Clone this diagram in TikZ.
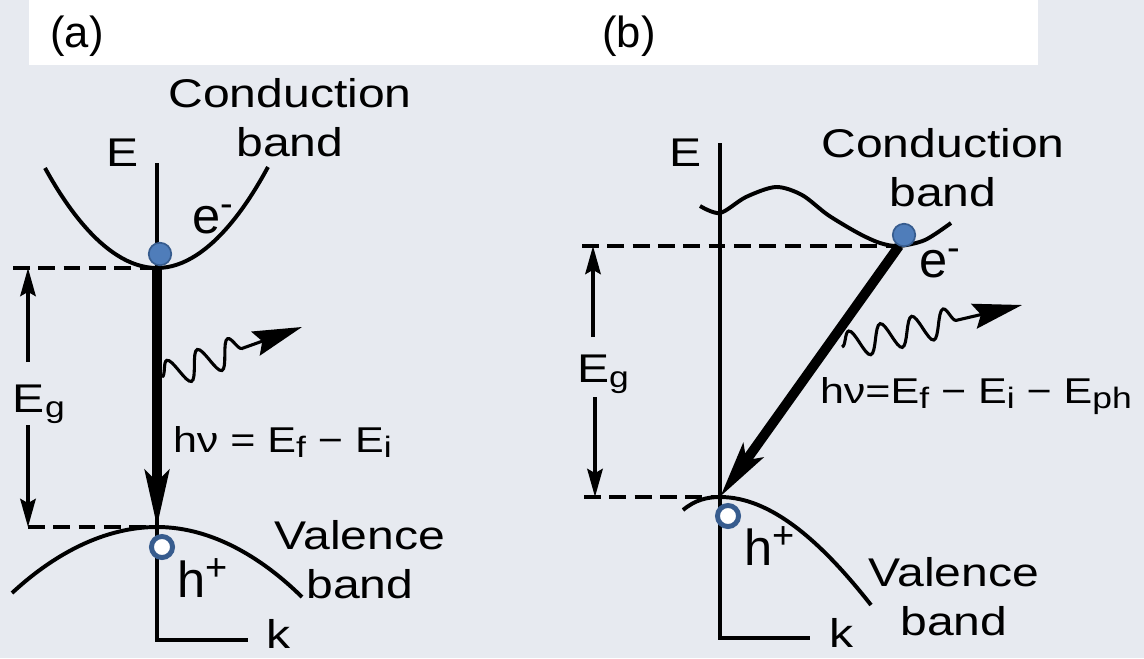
\documentclass[tikz,border=0pt]{standalone}
\usepackage{fontspec}
\usetikzlibrary{arrows.meta, decorations.pathmorphing}
\setmainfont{Liberation Sans}
\newfontfamily\scanfont[FakeStretch=1.2]{Liberation Sans}
\definecolor{paper}{RGB}{231,234,240}
\definecolor{dotfill}{RGB}{79,125,186}
\definecolor{dotedge}{RGB}{55,92,142}
\newcommand{\subtxt}[1]{\raisebox{-4pt}{\fontsize{21}{21}\selectfont #1}}
\newcommand{\suptxt}[1]{\raisebox{12pt}{\fontsize{27}{27}\selectfont #1}}

\begin{document}
\begin{tikzpicture}[
  x=0.025cm, y=-0.025cm,
  every node/.style={inner sep=0pt, outer sep=0pt},
  lbl/.style={font=\scanfont\fontsize{28.5}{35.5}\selectfont, align=center},
  eqn/.style={font=\scanfont\fontsize{25.5}{30}\selectfont, anchor=base west},
  tag/.style={font=\fontsize{31}{31}\selectfont, anchor=base},
  carrier/.style={font=\fontsize{36}{36}\selectfont, anchor=base west},
  curve/.style={line width=2.8pt},
  gapline/.style={line width=2.5pt, dash pattern=on 12pt off 6pt},
  gaparrow/.style={line width=2.4pt, -{Stealth[length=20pt, width=11pt, inset=3pt]}},
  trans/.style={line width=7pt, -{Stealth[length=40pt, width=17pt, inset=8pt]}},
  photon/.style={line width=2.2pt, decorate, decoration={snake, segment length=23pt, amplitude=10pt, post length=38pt}, -{Stealth[length=35pt, width=18pt, inset=5pt]}},
  electron/.style={circle, fill=dotfill, draw=dotedge, line width=1.2pt, minimum size=16pt},
  hole/.style={circle, fill=white, draw=dotedge, line width=3.5pt, minimum size=15pt}
]
% paper and white strip for the tags
\fill[paper] (0,0) rectangle (1144,658);
\fill[white] (29,0) rectangle (1038,65);
\useasboundingbox (0,0) rectangle (1144,658);

% ---- (a) direct gap ----
\node[tag] (tagA) at (77,47) {(a)};
\coordinate (cbA) at (157,268);
\coordinate (vbA) at (157,527);
\coordinate (axA) at (157,163);
\coordinate (kendA) at (248,640);
\draw[curve] (axA) |- (kendA);
\node[lbl, anchor=west] (kA) at (266,634) {k};
\node[lbl] (EA) at (123,153) {E};
\node[lbl, anchor=north] (condA) at (290,78) {Conduction\\band};
\draw[curve] (45,168) parabola bend (cbA) (268,167);
\draw[gapline] (13,268) -- (cbA);
\draw[gapline] (28,527) -- (vbA);
\node[lbl, anchor=base west] (EgA) at (13,412) {E\subtxt{g}};
\coordinate (upA) at (28,362);
\coordinate (dnA) at (28,425);
\draw[gaparrow] (upA) -- (upA |- cbA);
\draw[gaparrow] (dnA) -- (dnA |- vbA);
\draw[curve] (12,593) parabola bend (vbA) (302,597);
\node[lbl, anchor=north] (valA) at (360,520) {Valence\\band};
\draw[trans] (cbA) -- (vbA);
\coordinate (phA) at (162,377);
\coordinate (phendA) at (302,327);
\draw[photon] (phA) -- (phendA);
\node[eqn] (eqA) at (173,452) {hν = E\subtxt{f} − E\subtxt{i}};
\node[electron] (elA) at (160,254) {};
\node[carrier] (eA) at (192,233) {e\suptxt{-}};
\node[hole] (hoA) at (162,547) {};
\node[carrier] (hA) at (177,597) {h\suptxt{+}};

% ---- (b) indirect gap ----
\node[tag] (tagB) at (629,47) {(b)};
\coordinate (cbB) at (899,246);
\coordinate (vbB) at (720,497);
\coordinate (axB) at (720,143);
\coordinate (kendB) at (810,638);
\draw[curve] (axB) |- (kendB);
\node[lbl, anchor=west] (kB) at (829,633) {k};
\node[lbl] (EB) at (686,153) {E};
\node[lbl, anchor=north] (condB) at (943,128) {Conduction\\band};
\draw[curve] plot[smooth] coordinates {(700,206) (720,213) (746,197) (776,187) (802,195) (828,215) (858,233) (880,243) (899,246) (925,240) (951,223)};
\draw[gapline] (582,246) -- (cbB);
\draw[gapline] (584,497) -- (vbB);
\node[lbl, anchor=base west] (EgB) at (577,382) {E\subtxt{g}};
\coordinate (upB) at (593,337);
\coordinate (dnB) at (595,397);
\draw[gaparrow] (upB) -- (upB |- cbB);
\draw[gaparrow] (dnB) -- (dnB |- vbB);
\draw[curve] (683,510) .. controls (695,500) and (707,497) .. (vbB) .. controls (770,497) and (820,540) .. (871,605);
\node[lbl, anchor=north] (valB) at (954,557) {Valence\\band};
\draw[trans] (cbB) -- (vbB);
\coordinate (phB) at (842,347);
\coordinate (phendB) at (1022,305);
\draw[photon] (phB) -- (phendB);
\node[eqn] (eqB) at (820,403) {hν=E\subtxt{f} − E\subtxt{i} − E\subtxt{ph}};
\node[electron] (elB) at (904,235) {};
\node[carrier] (eB) at (919,277) {e\suptxt{-}};
\node[hole] (hoB) at (728,516) {};
\node[carrier] (hB) at (744,565) {h\suptxt{+}};
\end{tikzpicture}
\end{document}
